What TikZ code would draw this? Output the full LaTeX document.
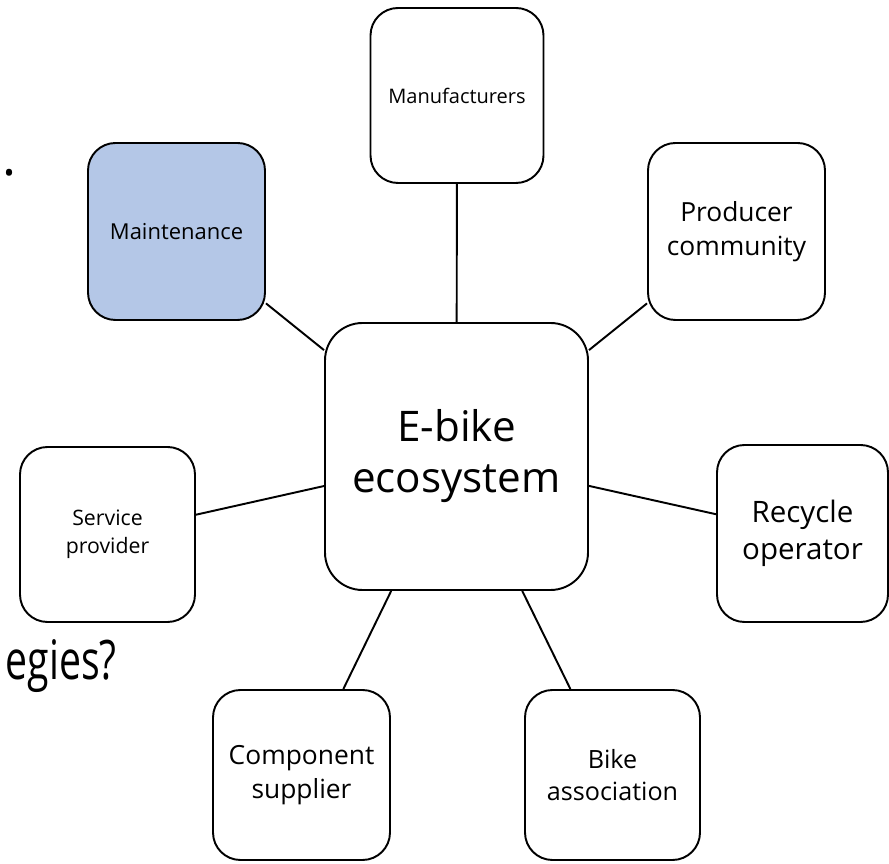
\documentclass[tikz,border=0pt]{standalone}
\usepackage{fontspec}
\setmainfont{Open Sans}
\definecolor{maintblue}{RGB}{180,199,231}

\begin{document}
\begin{tikzpicture}[
    actor/.style={draw, line width=1.1pt, rounded corners=0.55cm, align=center, inner sep=2pt,
        minimum width=3.5cm, minimum height=3.5cm},
    link/.style={line width=1.1pt}
]
    \pgfmathsetmacro{\pagewidth}{17.78}
    \pgfmathsetmacro{\pageheight}{17.26}
    \useasboundingbox (0,0) rectangle (\pagewidth,\pageheight);

    \node [actor, minimum width=5.26cm, minimum height=5.34cm, rounded corners=0.75cm, font=\fontsize{24}{29}\selectfont] (ecosystem) at (9.13,8.13) {E-bike\\ecosystem};

    \node [actor, minimum width=3.46cm, font=\fontsize{11.4}{14}\selectfont] (manufacturers) at (9.14,15.35) {Manufacturers};
    \node [actor, fill=maintblue, minimum width=3.54cm, minimum height=3.54cm, font=\fontsize{12.5}{15}\selectfont] (maintenance) at (3.53,12.63) {Maintenance};
    \node [actor, minimum width=3.54cm, minimum height=3.54cm, font=\fontsize{15}{19}\selectfont] (producer) at (14.73,12.63) {Producer\\community};
    \node [actor, font=\fontsize{12.1}{16}\selectfont] (service) at (2.15,6.57) {Service\\provider};
    \node [actor, minimum width=3.42cm, minimum height=3.54cm, font=\fontsize{16.8}{21}\selectfont] (recycle) at (16.05,6.59) {Recycle\\operator};
    \node [actor, minimum width=3.54cm, minimum height=3.4cm, font=\fontsize{15}{19}\selectfont] (component) at (6.03,1.76) {Component\\supplier};
    \node [actor, minimum height=3.4cm, font=\fontsize{14.3}{18}\selectfont] (bike) at (12.25,1.76) {Bike\\association};

    \draw [link] (manufacturers) -- (ecosystem);
    \draw [link] (maintenance) -- (ecosystem);
    \draw [link] (producer) -- (ecosystem);
    \draw [link] (service) -- (ecosystem);
    \draw [link] (recycle) -- (ecosystem);
    \draw [link] (component) -- (ecosystem);
    \draw [link] (bike) -- (ecosystem);

    \node [anchor=base, inner sep=0pt, font=\fontsize{30}{36}\selectfont] (bullet) at (0.2,13.74) {.};
    \node [anchor=base east, inner sep=0pt, transform shape, xscale=0.72, font=\fontsize{31}{37}\selectfont] (question) at (2.34,3.66) {egies?};
\end{tikzpicture}
\end{document}
